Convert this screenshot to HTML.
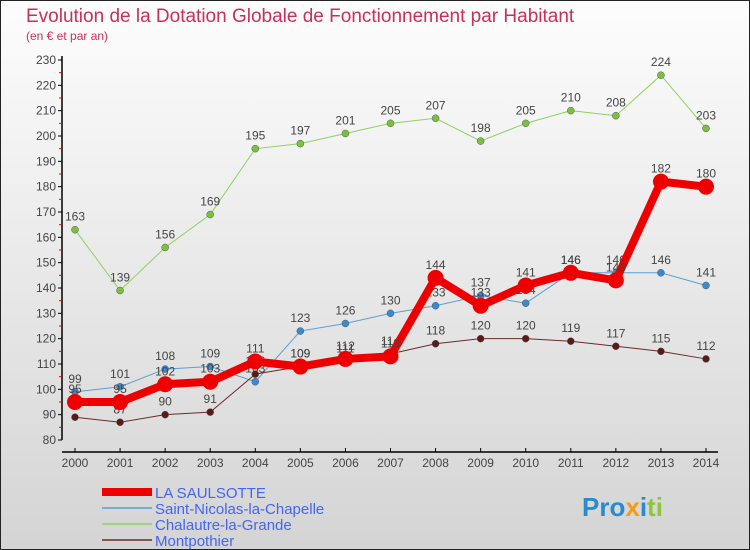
<!DOCTYPE html>
<html><head><meta charset="utf-8">
<style>
html,body{margin:0;padding:0}
body{width:750px;height:550px;overflow:hidden;font-family:"Liberation Sans",sans-serif}
svg{display:block}
</style></head>
<body>
<svg id="chart" width="750" height="550" xmlns="http://www.w3.org/2000/svg">
<defs><linearGradient id="bg" x1="0" y1="0" x2="0" y2="1"><stop offset="0" stop-color="#fdfdfd"/><stop offset="1" stop-color="#d4d4d4"/></linearGradient></defs>
<rect x="0.5" y="0.5" width="749" height="549" fill="url(#bg)" stroke="#222"/>
<text x="26" y="22" font-size="19" fill="#c8305a">Evolution de la Dotation Globale de Fonctionnement par Habitant</text>
<text x="26" y="40" font-size="12" fill="#c8305a">(en € et par an)</text>
<g id="axes"></g>
<g id="series"></g>
<g id="legend"></g>
<text x="582" y="516" font-size="26" font-weight="bold" fill="#2a8ad0">Pro<tspan fill="#f39c12">x</tspan><tspan fill="#2a8ad0">i</tspan><tspan fill="#8cc63f">ti</tspan></text>
</svg>
<script>
const years = [2000,2001,2002,2003,2004,2005,2006,2007,2008,2009,2010,2011,2012,2013,2014];
const saulsotte = [95,95,102,103,111,109,112,113,144,133,141,146,143,182,180];
const stNicolas = [99,101,108,109,103,123,126,130,133,137,134,146,146,146,141];
const chalautre = [163,139,156,169,195,197,201,205,207,198,205,210,208,224,203];
const montpothier = [89,87,90,91,106,109,111,114,118,120,120,119,117,115,112];
const yTicks = [80,90,100,110,120,130,140,150,160,170,180,190,200,210,220,230];
const NS="http://www.w3.org/2000/svg";
const x0=75,x1=706,yMin=80,yMax=230,yb=440,yt=60;
const X=i=>x0+(x1-x0)*i/(years.length-1);
const Y=v=>yb-(v-yMin)/(yMax-yMin)*(yb-yt);
function mk(tag,attrs,parent,txt){const e=document.createElementNS(NS,tag);for(const k in attrs)e.setAttribute(k,attrs[k]);if(txt!==undefined)e.textContent=txt;parent.appendChild(e);return e;}
const ax=document.getElementById('axes');
let e=mk('line',{x1:62,y1:yt-4,x2:62,y2:yb,stroke:'#000','stroke-width':1.5},ax);


e=mk('line',{x1:62,y1:yb+12,x2:x1+12,y2:yb+12,stroke:'#000','stroke-width':1.5},ax);


yTicks.forEach(v=>{
  mk('line',{x1:58,x2:62,y1:Y(v),y2:Y(v),stroke:'#000'},ax);
  if(v<yMax)mk('line',{x1:59,x2:62,y1:Y(v+5),y2:Y(v+5),stroke:'#e00'},ax);
  e=mk('text',{x:56,y:Y(v)+4,'font-size':12,'text-anchor':'end',fill:'#444'},ax,v);
  
  
});
years.forEach((yr,i)=>{
  mk('line',{x1:X(i),x2:X(i),y1:yb+8,y2:yb+12,stroke:'#000'},ax);
  e=mk('text',{x:X(i),y:yb+27,'font-size':12,'text-anchor':'middle',fill:'#444'},ax,yr);
  
  
});
const sg=document.getElementById('series');
const defs=[
 {d:chalautre,c:'#8fd060',dot:'#7cc040',w:1,r:3.5,n:'chalautre'},
 {d:stNicolas,c:'#5a9fd4',dot:'#3a8acc',w:1,r:3.5,n:'saint-nicolas'},
 {d:montpothier,c:'#6b2a2a',dot:'#5a1a1a',w:1,r:3.5,n:'montpothier'},
 {d:saulsotte,c:'#ee0000',dot:'#ee0000',w:8,r:8,n:'saulsotte'}];
defs.forEach(s=>{
  const g=mk('g',{},sg);
  
  
  const pl=mk('polyline',{points:s.d.map((v,i)=>X(i)+','+Y(v)).join(' '),fill:'none',stroke:s.c,'stroke-width':s.w},g);
  
  
  s.d.forEach((v,i)=>{
    const c=mk('circle',{cx:X(i),cy:Y(v),r:s.r,fill:s.dot,stroke:s.n==='saulsotte'?'#ee0000':'#555','stroke-width':s.n==='saulsotte'?0:0.5},g);
    
    
    const t=mk('text',{x:X(i),y:Y(v)-9,'font-size':12,'text-anchor':'middle',fill:'#444'},g,v);
    
    
  });
});
const lg=document.getElementById('legend');
const leg=[['LA SAULSOTTE','#ee0000',8],['Saint-Nicolas-la-Chapelle','#5a9fd4',1.5],['Chalautre-la-Grande','#8fd060',1.5],['Montpothier','#6b2a2a',1.5]];
leg.forEach((l,i)=>{
  const y=492+i*16;
  const g=mk('g',{},lg);
  
  
  mk('line',{x1:102,x2:152,y1:y,y2:y,stroke:l[1],'stroke-width':l[2]},g);
  mk('text',{x:155,y:y+6,'font-size':15,fill:'#4466ee'},g,l[0]);
});
</script>
</body></html>
